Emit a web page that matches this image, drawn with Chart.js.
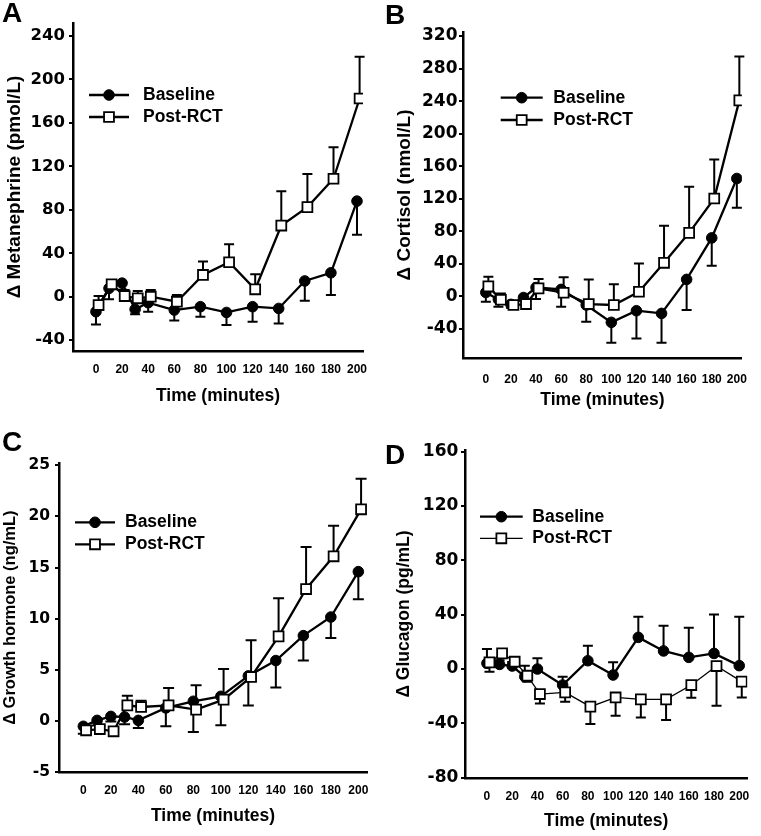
<!DOCTYPE html>
<html lang="en">
<head>
<meta charset="UTF-8">
<title>Hormone responses</title>
<script src="https://cdn.jsdelivr.net/npm/chart.js"></script>
<style>
  body { margin: 0; background: #fff; }
  #wrap { position: relative; width: 761px; height: 836px; }
  .panel { position: absolute; }
  .letter { position: absolute; font: bold 28px "Liberation Sans", Arial, sans-serif; line-height: 28px; color: #000; }
</style>
</head>
<body>
<div id="wrap">
  <div class="panel" style="left:0;top:0;width:380px;height:420px"><canvas id="chartA"></canvas></div>
  <div class="panel" style="left:380px;top:0;width:381px;height:420px"><canvas id="chartB"></canvas></div>
  <div class="panel" style="left:0;top:420px;width:380px;height:416px"><canvas id="chartC"></canvas></div>
  <div class="panel" style="left:380px;top:420px;width:381px;height:416px"><canvas id="chartD"></canvas></div>
  <div class="letter" style="left:2px;top:-1px">A</div>
  <div class="letter" style="left:385px;top:1px">B</div>
  <div class="letter" style="left:2px;top:428px">C</div>
  <div class="letter" style="left:385px;top:441px">D</div>
</div>
<script>
// sampling times (minutes); Post-RCT is plotted slightly to the right
const times = [0, 10, 20, 30, 40, 60, 80, 100, 120, 140, 160, 180, 200];
const postTimes = [2, 12, 22, 32, 42, 62, 82, 102, 122, 142, 162, 182, 202];
const xTicks = [0, 20, 40, 60, 80, 100, 120, 140, 160, 180, 200];

// A: metanephrine (pmol/L)
const metaBase = [-13.8, 7.7, 12.5, -11.6, -5.5, -12.3, -9.2, -14.5, -9.2, -10.8, 14.5, 22, 88];
const metaBaseErr = [11.7, 10, 6, 4.5, 8.3, 9.7, 9.3, 11.5, 13.8, 13.8, 18.2, 20.5, 31];
const metaPost = [-7.7, 11.4, 0.6, -1.5, 0, -4.6, 20, 31.7, 6.8, 65.5, 82.5, 108.6, 182.5];
const metaPostErr = [8.3, 4, 5.6, 6.7, 6.2, 6.1, 12.3, 16.6, 13.8, 31.5, 30.5, 29, 38.5];
const metaTicks = [-40, 0, 40, 80, 120, 160, 200, 240];

// B: cortisol (nmol/L)
const cortBase = [5, -3.6, -9.7, -1.3, 11, 8.7, -10.5, -31.8, -17.5, -20.8, 21, 72, 145];
const cortBaseErr = [11.5, 9, 4, 4, 14.2, 21.3, 20.5, 25, 34, 36, 37.7, 34.3, 36];
const cortPost = [12.4, -4, -10.5, -9.3, 10, 4.6, -9.3, -10.5, 5.8, 41.4, 78.2, 120.4, 241];
const cortPostErr = [11.9, 7.8, 4, 5, 11.4, 18.9, 30.3, 25.4, 34.8, 45.4, 56.5, 47.9, 54];
const cortTicks = [-40, 0, 40, 80, 120, 160, 200, 240, 280, 320];

// C: growth hormone (ng/mL)
const ghBase = [-0.53, 0.05, 0.44, 0.38, 0.05, 1.27, 1.92, 2.4, 4.4, 5.9, 8.34, 10.16, 14.6];
const ghBaseErr = [0.72, 0.5, 0.5, 0.72, 0.75, 1.8, 3.0, 2.83, 2.9, 2.63, 2.44, 2.06, 2.7];
const ghPost = [-0.92, -0.8, -1.02, 1.52, 1.36, 1.52, 1.1, 2.08, 4.3, 8.27, 12.9, 16.1, 20.7];
const ghPostErr = [0.3, 0.3, 0.3, 0.95, 0.62, 1.7, 2.39, 3.0, 3.58, 3.73, 4.1, 3.0, 3.0];
const ghTicks = [-5, 0, 5, 10, 15, 20, 25];

// D: glucagon (pg/mL)
const glucBase = [4.2, 3.4, 2.2, -5.6, 0, -11.8, 6.1, -4.4, 23.3, 13.3, 8.6, 11.5, 2.5];
const glucBaseErr = [10.5, 3, 3, 8.1, 7.9, 6.2, 11.1, 9.3, 15.2, 18.6, 21.8, 28.7, 36];
const glucPost = [4.9, 11.5, 5.4, -4.9, -18.4, -17.2, -27.7, -20.9, -22.3, -22.3, -11.8, 2.2, -9.3];
const glucPostErr = [6.9, 3, 3, 4.4, 6.9, 6.8, 12.8, 13.5, 13.3, 15.2, 9.3, 29.2, 11.6];
const glucTicks = [-80, -40, 0, 40, 80, 120, 160];

const SANS = '"Liberation Sans", Arial, sans-serif';
const WIDE = '"DejaVu Sans", sans-serif';

// vertical one-sided error bars, drawn under the markers
const errorBars = {
  id: 'errorBars',
  beforeDatasetsDraw(chart, args, opts) {
    const {ctx, scales: {x, y}} = chart;
    ctx.save();
    ctx.strokeStyle = '#000';
    ctx.lineWidth = opts.width;
    chart.data.datasets.forEach(ds => {
      ds.data.forEach((p, j) => {
        const px = x.getPixelForValue(p.x);
        const py = y.getPixelForValue(p.y);
        const pe = y.getPixelForValue(p.y + ds.errDir * ds.err[j]);
        ctx.beginPath();
        ctx.moveTo(px, py);
        ctx.lineTo(px, pe);
        ctx.moveTo(px - opts.cap / 2, pe);
        ctx.lineTo(px + opts.cap / 2, pe);
        ctx.stroke();
      });
    });
    ctx.restore();
  }
};

// legend with line-through-marker symbols
const lineLegend = {
  id: 'lineLegend',
  afterDraw(chart, args, opts) {
    const ctx = chart.ctx;
    ctx.save();
    chart.data.datasets.forEach((ds, i) => {
      const y = opts.y + i * opts.gap;
      ctx.strokeStyle = '#000';
      ctx.lineWidth = ds.borderWidth;
      ctx.beginPath();
      ctx.moveTo(opts.x, y);
      ctx.lineTo(opts.x + opts.len, y);
      ctx.stroke();
      ctx.fillStyle = ds.pointBackgroundColor;
      ctx.lineWidth = ds.pointBorderWidth;
      Chart.helpers.drawPoint(ctx, {pointStyle: ds.pointStyle, radius: ds.pointRadius,
        borderWidth: ds.pointBorderWidth, rotation: 0}, opts.x + opts.len / 2, y);
      ctx.fillStyle = '#000';
      ctx.font = 'bold ' + opts.size + 'px ' + SANS;
      ctx.textBaseline = 'middle';
      ctx.textAlign = 'left';
      ctx.fillText(ds.label, opts.textX, y);
    });
    ctx.restore();
  }
};

function pts(xs, ys) {
  return xs.map((x, i) => ({x: x, y: ys[i]}));
}

function makeChart(id, p) {
  new Chart(document.getElementById(id), {
    type: 'line',
    data: {
      datasets: [
        {
          label: 'Baseline', data: pts(times, p.base), err: p.baseErr, errDir: p.baseDir,
          borderColor: '#000', borderWidth: 2.3, pointStyle: 'circle', pointRadius: 5.3,
          pointBackgroundColor: '#000', pointBorderColor: '#000', pointBorderWidth: 1,
          tension: 0, order: 1
        },
        {
          label: 'Post-RCT', data: pts(postTimes, p.post), err: p.postErr, errDir: -p.baseDir,
          borderColor: '#000', borderWidth: p.postLine || 2.3, pointStyle: 'rect', pointRadius: 7,
          pointBackgroundColor: '#fff', pointBorderColor: '#000', pointBorderWidth: 1.8,
          tension: 0, order: 0
        }
      ]
    },
    options: {
      responsive: true,
      maintainAspectRatio: false,
      animation: false,
      events: [],
      layout: {padding: {left: 0, top: p.top, right: p.right, bottom: 0}},
      scales: {
        x: {
          type: 'linear', min: p.xMin, max: p.xMax,
          afterFit: s => { s.height = p.xH; },
          afterBuildTicks: s => { s.ticks = xTicks.map(v => ({value: v})); },
          grid: {display: false, drawTicks: false},
          border: {display: true, color: '#000', width: 2.5},
          ticks: {color: '#000', padding: p.xPad, maxRotation: 0, autoSkip: false,
            font: {family: SANS, size: 12, weight: 'bold'}},
          title: {display: true, text: 'Time (minutes)', color: '#000',
            padding: {top: 0, bottom: p.xTitlePad},
            font: {family: SANS, size: 17.5, weight: 'bold'}}
        },
        y: {
          type: 'linear', min: p.yMin, max: p.yMax,
          afterFit: s => { s.width = p.yW; },
          afterBuildTicks: s => { s.ticks = p.yTicks.map(v => ({value: v})); },
          grid: {display: true, drawOnChartArea: false, drawTicks: true, tickLength: 4,
            color: '#000', lineWidth: 2},
          border: {display: true, color: '#000', width: 2.5},
          ticks: {color: '#000', padding: p.yPad, autoSkip: false,
            font: {family: WIDE, size: p.yFont, weight: 'bold'}},
          title: {display: true, text: p.yTitle, color: '#000',
            padding: {top: p.yTitlePad, bottom: 0},
            font: {family: SANS, size: p.yTitleSize, weight: 'bold'}}
        }
      },
      plugins: {
        legend: {display: false},
        tooltip: {enabled: false},
        errorBars: {width: 2, cap: p.cap},
        lineLegend: p.legend
      }
    },
    plugins: [errorBars, lineLegend]
  });
}

makeChart('chartA', {
  base: metaBase, baseErr: metaBaseErr, post: metaPost, postErr: metaPostErr, baseDir: -1,
  top: 23, right: 17, xH: 69, yW: 73, xMin: -17.6, xMax: 204.6, yMin: -50, yMax: 252,
  yTicks: metaTicks, yFont: 16.5, yPad: 4, xPad: 11, xTitlePad: 13.5,
  yTitle: '\u0394 Metanephrine (pmol/L)', yTitleSize: 19, yTitlePad: 3.3, cap: 10,
  legend: {x: 89, len: 40, y: 95, gap: 22, textX: 143, size: 17.5}
});

makeChart('chartB', {
  base: cortBase, baseErr: cortBaseErr, post: cortPost, postErr: cortPostErr, baseDir: -1,
  top: 32, right: 8, xH: 62, yW: 83, xMin: -18.2, xMax: 204, yMin: -75.6, yMax: 325,
  yTicks: cortTicks, yFont: 17, yPad: 1.5, xPad: 14, xTitlePad: 9.5,
  yTitle: '\u0394 Cortisol (nmol/L)', yTitleSize: 19, yTitlePad: 13.3, cap: 10,
  legend: {x: 120.7, len: 42, y: 97.7, gap: 22.3, textX: 173.3, size: 17.5}
});

makeChart('chartC', {
  base: ghBase, baseErr: ghBaseErr, post: ghPost, postErr: ghPostErr, baseDir: -1,
  top: 43.3, right: 13, xH: 64, yW: 59, xMin: -17.7, xMax: 206.3, yMin: -5, yMax: 25.2,
  yTicks: ghTicks, yFont: 15.5, yPad: 5, xPad: 11, xTitlePad: 9.5,
  yTitle: '\u0394 Growth hormone (ng/mL)', yTitleSize: 16.5, yTitlePad: 0.5, cap: 11,
  legend: {x: 75, len: 40, y: 102.3, gap: 22, textX: 125, size: 17.5}
});

makeChart('chartD', {
  base: glucBase, baseErr: glucBaseErr, post: glucPost, postErr: glucPostErr, baseDir: 1,
  postLine: 1.3,
  top: 30, right: 4.3, xH: 58, yW: 85, xMin: -17.4, xMax: 206.4, yMin: -80.2, yMax: 161.2,
  yTicks: glucTicks, yFont: 17, yPad: 2.7, xPad: 11.5, xTitlePad: 4.5,
  yTitle: '\u0394 Glucagon (pg/mL)', yTitleSize: 17.5, yTitlePad: 13.3, cap: 10,
  legend: {x: 100, len: 42.7, y: 96.7, gap: 21.6, textX: 152.3, size: 17.5}
});
</script>
</body>
</html>
